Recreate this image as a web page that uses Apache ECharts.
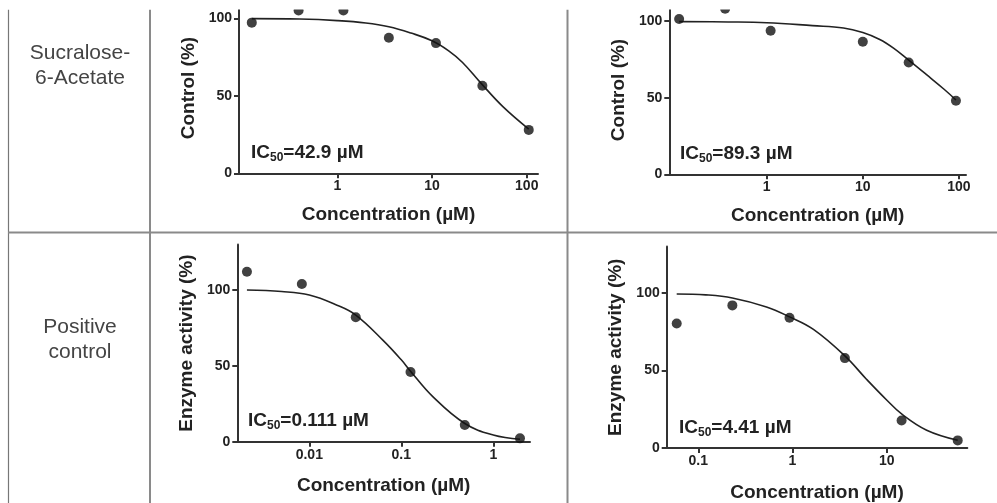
<!DOCTYPE html>
<html><head><meta charset="utf-8">
<script src="https://cdn.jsdelivr.net/npm/echarts@6/dist/echarts.min.js"></script>
<style>html,body{margin:0;padding:0;background:#fff}#c{width:997px;height:503px}</style>
</head><body><div id="c"></div>
<script>
// ---- data ----
const rowLabels = ['Sucralose-\n6-Acetate', 'Positive\ncontrol'];
const ic50Values = ['42.9', '89.3', '0.111', '4.41'];
const yTitles = ['Control (%)', 'Control (%)', 'Enzyme activity (%)', 'Enzyme activity (%)'];
const xTitle = 'Concentration (\u00b5M)';
const xTicks1 = [1, 10, 100];
const xTicks2 = [1, 10, 100];
const xTicks3 = [0.01, 0.1, 1];
const xTicks4 = [0.1, 1, 10];
const yTicks = [0, 50, 100];

const points1 = [[0.125, 97.2], [0.39, 105], [1.16, 105], [3.5, 87.5], [11, 84], [34, 56.5], [105, 28]];
const curve1 = [[0.125, 99.8], [0.4, 99.5], [1, 98.5], [2, 97], [3.5, 94.6], [6, 90.5], [10, 85.5], [15, 79], [21, 71.5], [33, 58], [56, 43], [105, 28.5]];

const points2 = [[0.123, 101.3], [0.37, 108], [1.1, 93.7], [10, 86.5], [30, 73], [93, 48]];
const curve2 = [[0.123, 99.6], [0.4, 99.4], [1, 98.9], [3, 97], [6.3, 95.5], [10, 92.5], [15, 88], [20.7, 82.5], [30, 74.5], [46, 65], [70, 55.5], [93, 48.5]];

const points3 = [[0.0021, 112], [0.0083, 104], [0.032, 82], [0.126, 46], [0.49, 11], [1.95, 2.2]];
const curve3 = [[0.0021, 100], [0.005, 99], [0.01, 96.7], [0.02, 90], [0.032, 83.5], [0.063, 67], [0.1, 54], [0.126, 46.5], [0.22, 29.7], [0.49, 12], [1, 4.4], [1.95, 1.6]];

const points4 = [[0.059, 80.3], [0.23, 92], [0.93, 84], [3.6, 58], [14.4, 17.7], [56.8, 4.9]];
const curve4 = [[0.059, 99.4], [0.12, 98.8], [0.23, 96.8], [0.53, 91], [0.93, 84.6], [1.67, 76.5], [3.6, 59.4], [6.1, 44.4], [10, 31], [14.4, 22], [26.6, 11.5], [56.8, 5]];

// ---- layout ----
const FONT = '"Liberation Sans", Arial, sans-serif';
const INK = '#222';
const grids = [
  {left: 239, top: 2.8, width: 299, height: 170.5},
  {left: 669.3, top: 5.7, width: 296.7, height: 168.6},
  {left: 237.3, top: 244.5, width: 292.7, height: 197.2},
  {left: 666.7, top: 246.5, width: 300.6, height: 202.8}
];
const yMax = [110, 110, 130, 130];
const xRanges = [[0.0916, 131.5], [0.0972, 118.3], [0.00165, 2.506], [0.0462, 71.8]];
const xNameGap = [32, 32, 35, 35];
const xTickSets = [xTicks1, xTicks2, xTicks3, xTicks4];
const pointSets = [points1, points2, points3, points4];
const curveSets = [curve1, curve2, curve3, curve4];
const icPos = [[251, 153], [680, 154], [248, 421], [679, 428]];

const chart = echarts.init(document.getElementById('c'), null, {renderer: 'canvas'});

const xAxis = grids.map((g, i) => ({
  type: 'log', logBase: 10, gridIndex: i,
  min: xRanges[i][0], max: xRanges[i][1],
  name: xTitle, nameLocation: 'middle', nameGap: xNameGap[i],
  nameTextStyle: {fontFamily: FONT, fontWeight: 'bold', fontSize: 19, color: INK},
  axisLine: {show: true, lineStyle: {color: '#333', width: 2}},
  axisTick: {show: true, length: 5, lineStyle: {color: '#333', width: 2}, customValues: xTickSets[i]},
  minorTick: {show: false},
  axisLabel: {fontFamily: FONT, fontWeight: 'bold', fontSize: 14, color: INK, margin: 6, customValues: xTickSets[i]},
  splitLine: {show: false}
}));
const yAxis = grids.map((g, i) => ({
  type: 'value', gridIndex: i, min: 0, max: yMax[i], interval: 50,
  name: yTitles[i], nameLocation: 'middle', nameGap: 41,
  nameTextStyle: {fontFamily: FONT, fontWeight: 'bold', fontSize: 19, color: INK},
  axisLine: {show: true, lineStyle: {color: '#333', width: 2}},
  axisTick: {show: true, length: 5, lineStyle: {color: '#333', width: 2}, customValues: yTicks},
  axisLabel: {fontFamily: FONT, fontWeight: 'bold', fontSize: 14, color: INK, margin: 7, customValues: yTicks},
  splitLine: {show: false}
}));

const series = [];
for (let i = 0; i < 4; i++) {
  series.push({type: 'line', xAxisIndex: i, yAxisIndex: i, data: curveSets[i], smooth: 0.4,
    showSymbol: false, symbol: 'none', lineStyle: {color: '#222', width: 1.6}, silent: true, z: 2, clip: false});
  series.push({type: 'scatter', xAxisIndex: i, yAxisIndex: i, data: pointSets[i], symbol: 'circle',
    symbolSize: 10, itemStyle: {color: '#111'}, z: 3, clip: false});
}

const lineStyle = {stroke: '#8a8a8a', lineWidth: 2};
const graphic = [
  {type: 'line', shape: {x1: 8.5, y1: 9.5, x2: 8.5, y2: 503}, style: {stroke: '#777', lineWidth: 1.2}, z: 1},
  {type: 'line', shape: {x1: 150, y1: 9.5, x2: 150, y2: 503}, style: lineStyle, z: 1},
  {type: 'line', shape: {x1: 567.5, y1: 9.5, x2: 567.5, y2: 503}, style: lineStyle, z: 1},
  {type: 'line', shape: {x1: 8, y1: 232.5, x2: 997, y2: 232.5}, style: lineStyle, z: 1},
  {type: 'text', x: 80, y: 66, style: {text: rowLabels[0], font: '21px ' + FONT, fill: '#444', align: 'center', verticalAlign: 'middle', lineHeight: 25}, z: 1},
  {type: 'text', x: 80, y: 339.5, style: {text: rowLabels[1], font: '21px ' + FONT, fill: '#444', align: 'center', verticalAlign: 'middle', lineHeight: 25}, z: 1}
];
icPos.forEach((p, i) => {
  graphic.push({type: 'text', x: p[0], y: p[1], z: 5,
    style: {text: '{a|IC}{s|50}{a|=' + ic50Values[i] + ' \u00b5M}', verticalAlign: 'middle', align: 'left',
      rich: {a: {fontFamily: FONT, fontWeight: 'bold', fontSize: 19, fill: INK, color: INK},
             s: {fontFamily: FONT, fontWeight: 'bold', fontSize: 12, fill: INK, color: INK, padding: [9, 0, 0, 0]}}}});
});
// top crop of the figure
graphic.push({type: 'rect', shape: {x: 0, y: 0, width: 997, height: 9.5}, style: {fill: '#fff'}, z: 100});

chart.setOption({
  backgroundColor: '#fff',
  animation: false,
  grid: grids.map(g => Object.assign({containLabel: false}, g)),
  xAxis, yAxis, series, graphic
});
</script></body></html>
